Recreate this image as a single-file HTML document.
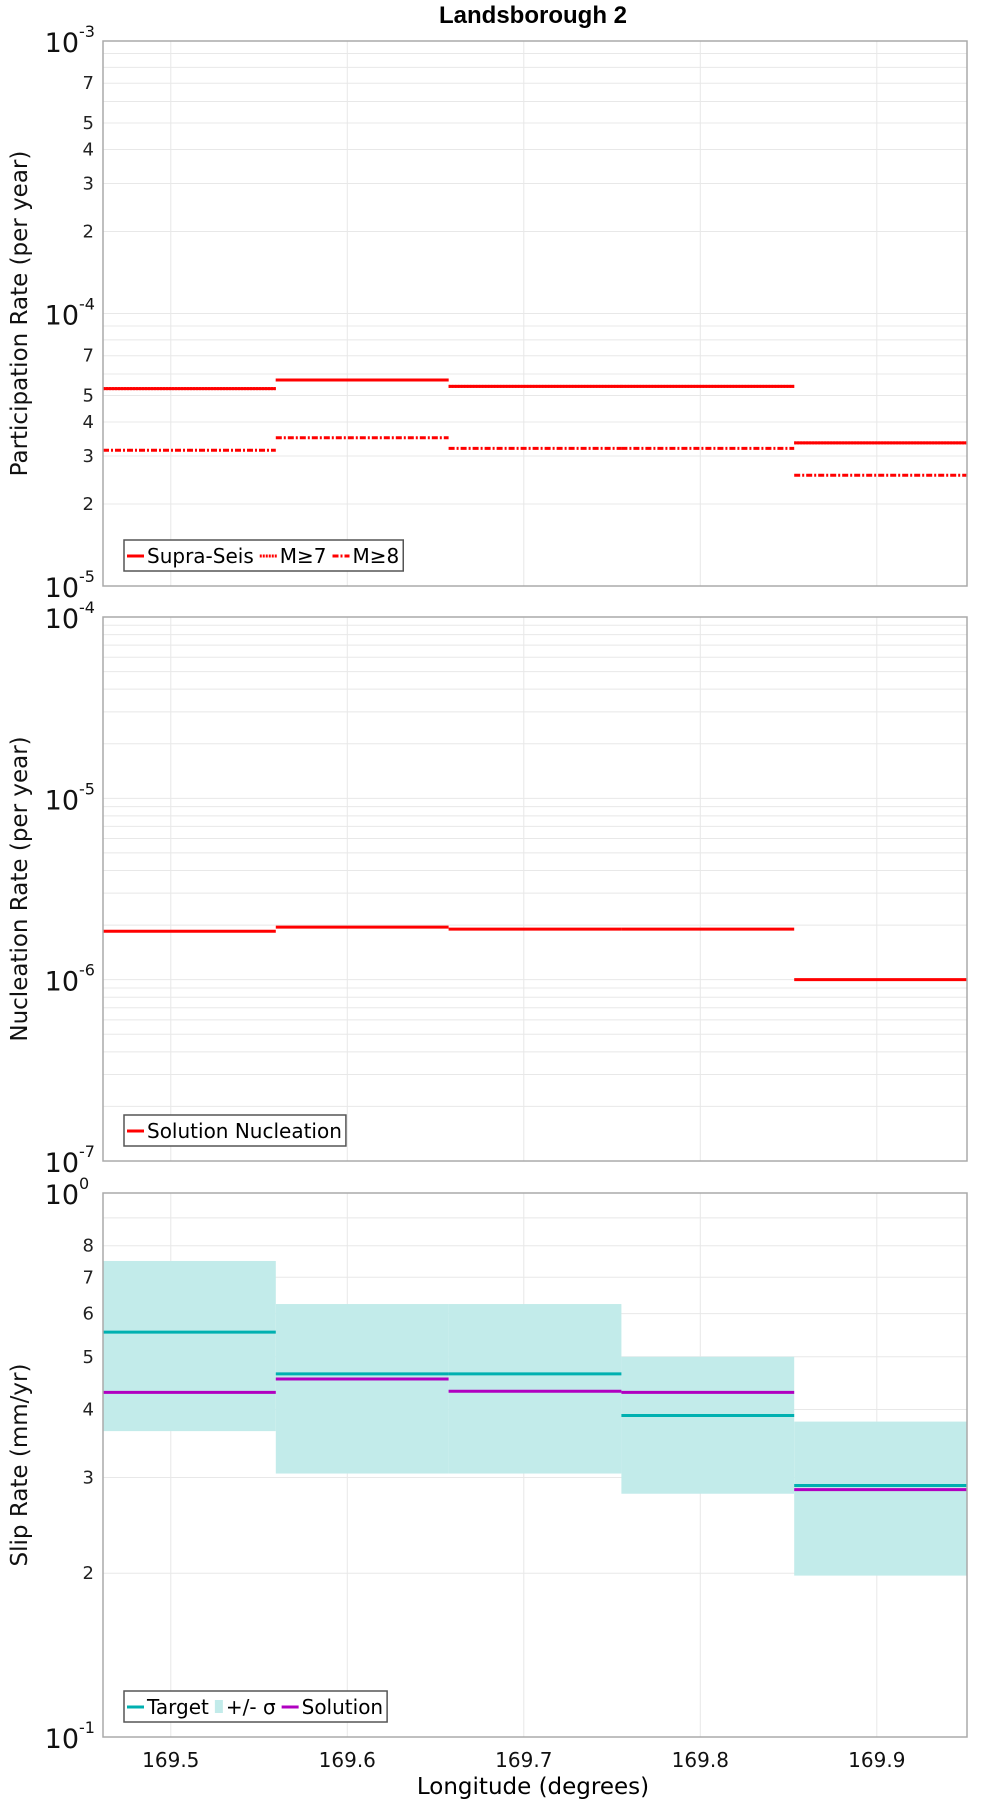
<!DOCTYPE html>
<html><head><meta charset="utf-8"><style>
html,body{margin:0;padding:0;background:#fff}
svg{display:block;font-family:"DejaVu Sans","Liberation Sans",sans-serif}
</style></head><body>
<svg id="chart" width="1000" height="1800" viewBox="0 0 1000 1800" xmlns="http://www.w3.org/2000/svg">
<text x="533" y="23" text-anchor="middle" font-size="24" font-weight="bold" font-family="Liberation Sans, sans-serif">Landsborough 2</text>
<text x="533" y="1794" text-anchor="middle" font-size="23">Longitude (degrees)</text>
</svg>
<script>
const binEdges = [169.4616, 169.5595, 169.6574, 169.7553, 169.8532, 169.9511];
const xTicks = [169.5, 169.6, 169.7, 169.8, 169.9];
const supraSeis = [5.3e-5, 5.7e-5, 5.4e-5, 5.4e-5, 3.35e-5];
const m7 = [5.3e-5, 5.7e-5, 5.4e-5, 5.4e-5, 3.35e-5];
const m8 = [3.15e-5, 3.5e-5, 3.2e-5, 3.2e-5, 2.55e-5];
const nucleation = [1.85e-6, 1.95e-6, 1.9e-6, 1.9e-6, 1.0e-6];
const targetSlip = [0.555, 0.465, 0.465, 0.39, 0.29];
const sigmaUpper = [0.75, 0.625, 0.625, 0.50, 0.38];
const sigmaLower = [0.365, 0.305, 0.305, 0.28, 0.198];
const solutionSlip = [0.43, 0.455, 0.432, 0.43, 0.285];

const NS = "http://www.w3.org/2000/svg";
const svg = document.getElementById('chart');
const L = 103, R = 967;
function xs(v){ return L + (v - binEdges[0]) / (binEdges[binEdges.length-1] - binEdges[0]) * (R - L); }
function mk(tag, attrs, parent){
  const e = document.createElementNS(NS, tag);
  for (const k in attrs) e.setAttribute(k, attrs[k]);
  (parent || svg).appendChild(e);
  return e;
}
function panel(top, bottom, dmin, dmax, minorLabels, ytitle, key){
  const g = mk('g', {});
  
  
  const ys = v => bottom - (Math.log10(v) - dmin) / (dmax - dmin) * (bottom - top);
  mk('rect', {x: L, y: top, width: R-L, height: bottom-top, fill: '#fff'}, g);
  for (let d = dmin; d < dmax; d++) {
    for (let m = 2; m <= 9; m++) {
      const y = ys(m * Math.pow(10, d));
      mk('line', {x1: L, x2: R, y1: y, y2: y, stroke: '#e8e8e8', 'stroke-width': 1}, g);
      if (minorLabels.includes(m)) {
        const t = mk('text', {x: L-9, y: y+6, 'text-anchor': 'end', 'font-size': 18, fill: '#222'}, g);
        t.textContent = m;
        
        
      }
    }
  }
  for (let d = dmin; d <= dmax; d++) {
    const y = ys(Math.pow(10, d));
    mk('line', {x1: L, x2: R, y1: y, y2: y, stroke: '#e8e8e8'}, g);
    const t = mk('text', {x: L-24, y: y+11, 'text-anchor': 'end', 'font-size': 27, fill: '#111'}, g);
    t.textContent = '10';
    
    
    const s = mk('text', {x: L-24, y: y-4, 'font-size': 16, fill: '#111'}, g);
    s.textContent = String(d);
    
    
  }
  xTicks.forEach(v => mk('line', {x1: xs(v), x2: xs(v), y1: top, y2: bottom, stroke: '#e8e8e8'}, g));
  const yt = mk('text', {x: 0, y: 0, 'text-anchor': 'middle', 'font-size': 23, fill: '#111',
    transform: `translate(27,${(top+bottom)/2}) rotate(-90)`}, g);
  yt.textContent = ytitle;
  
  
  return {g, ys, top, bottom};
}
function steps(p, vals, color, dash, name){
  vals.forEach((v, i) => {
    const l = mk('line', {x1: xs(binEdges[i]), x2: xs(binEdges[i+1]), y1: p.ys(v), y2: p.ys(v),
      stroke: color, 'stroke-width': 3, 'stroke-dasharray': dash || 'none'}, p.g);
    
    
  });
}
function frame(p){ mk('rect', {x: L, y: p.top, width: R-L, height: p.bottom-p.top, fill: 'none', stroke: '#aaa', 'stroke-width': 1.5}, p.g); }
function legend(p, x, y, items){
  const lg = mk('g', {}, p.g);
  
  
  const box = mk('rect', {x: x, y: y, width: 10, height: 31, fill: '#fff', stroke: '#555', 'stroke-width': 1.5}, lg);
  let cx = x + 3;
  items.forEach(it => {
    if (it.box) mk('rect', {x: cx, y: y+9, width: 8, height: 13, fill: it.color}, lg);
    else mk('line', {x1: cx, x2: cx+17, y1: y+16, y2: y+16, stroke: it.color, 'stroke-width': 3, 'stroke-dasharray': it.dash || 'none'}, lg);
    cx += it.box ? 11 : 20;
    const t = mk('text', {x: cx, y: y+23, 'font-size': 20, fill: '#000'}, lg);
    t.textContent = it.label;
    
    
    cx += t.getComputedTextLength() + 6;
  });
  box.setAttribute('width', cx - x - 2);
}
const p1 = panel(41, 586, -5, -3, [2,3,4,5,7], 'Participation Rate (per year)', 'participation');
steps(p1, supraSeis, '#ff0000', null, 'supra-seis');
steps(p1, m7, '#ff0000', '2,1', 'm7');
steps(p1, m8, '#ff0000', '6,2,2,2', 'm8');
frame(p1);
legend(p1, 124, 540, [
  {color:'#ff0000', label:'Supra-Seis'},
  {color:'#ff0000', dash:'2,1', label:'M≥7'},
  {color:'#ff0000', dash:'6,2,2,2', label:'M≥8'}]);
const p2 = panel(617, 1161, -7, -4, [], 'Nucleation Rate (per year)', 'nucleation');
steps(p2, nucleation, '#ff0000', null, 'nucleation');
frame(p2);
legend(p2, 124, 1115, [{color:'#ff0000', label:'Solution Nucleation'}]);
const p3 = panel(1193, 1737, -1, 0, [2,3,4,5,6,7,8], 'Slip Rate (mm/yr)', 'slip');
sigmaUpper.forEach((u, i) => {
  const r = mk('rect', {x: xs(binEdges[i]), y: p3.ys(u), width: xs(binEdges[i+1]) - xs(binEdges[i]),
    height: p3.ys(sigmaLower[i]) - p3.ys(u), fill: '#c2ebea'}, p3.g);
  
  
});
steps(p3, targetSlip, '#00b0b0', null, 'target');
steps(p3, solutionSlip, '#b000c0', null, 'solution');
frame(p3);
legend(p3, 124, 1691, [
  {color:'#00b0b0', label:'Target'},
  {color:'#c2ebea', box:true, label:'+/- σ'},
  {color:'#b000c0', label:'Solution'}]);
xTicks.forEach(v => {
  const t = mk('text', {x: xs(v), y: 1767, 'text-anchor': 'middle', 'font-size': 20, fill: '#111'});
  t.textContent = v.toFixed(1);
  
  
});
</script>
</body></html>
